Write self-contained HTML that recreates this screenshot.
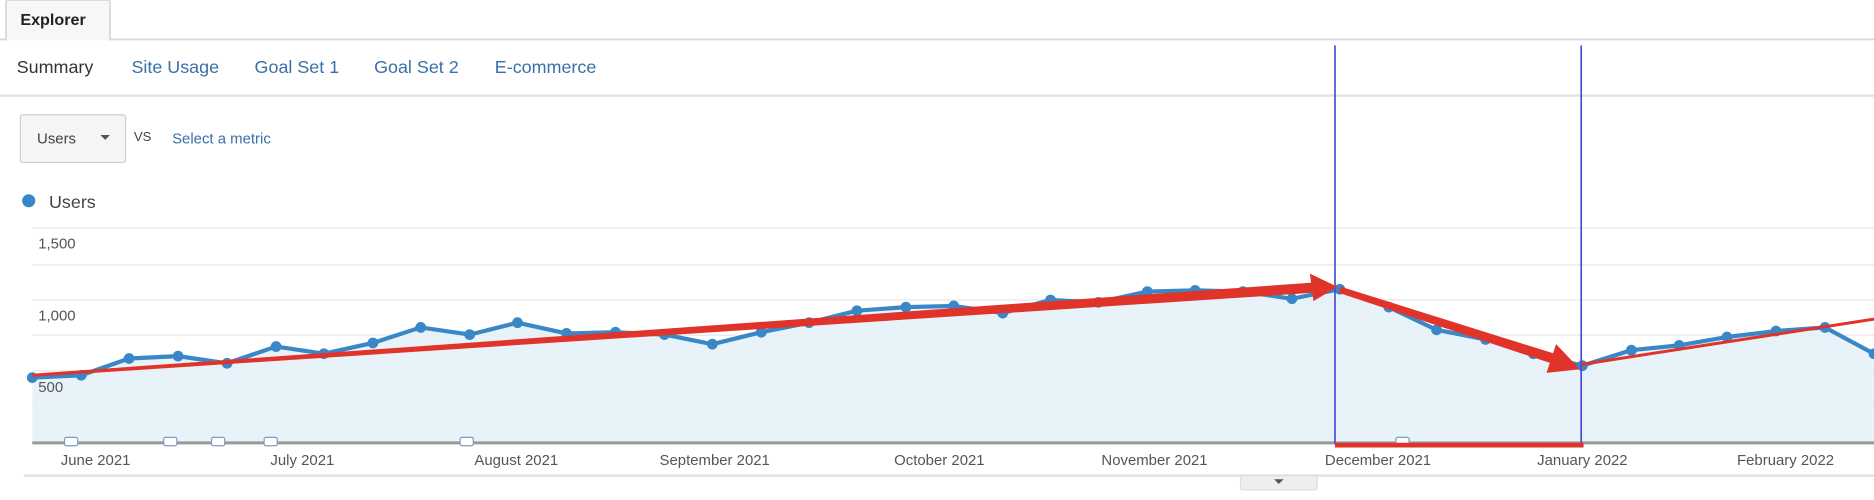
<!DOCTYPE html>
<html><head><meta charset="utf-8"><style>
html,body{margin:0;padding:0;background:#fff;width:1874px;height:500px;overflow:hidden}
svg{display:block}
text{font-family:"Liberation Sans",Arial,sans-serif}
</style></head><body>
<svg width="1874" height="500" viewBox="0 0 1568 418.4" preserveAspectRatio="none">
<rect width="1568" height="418.4" fill="#fff"/>
<path d="M0 33 H5 V2 Q5 0 7 0 H90 Q92 0 92 2 V33 H1568" fill="#f7f7f7" stroke="#d8d8d8" stroke-width="1.5"/>
<rect x="5.8" y="0.8" width="85.4" height="33" fill="#f7f7f7"/>
<text x="17" y="21" font-size="13.5" font-weight="bold" fill="#222">Explorer</text>
<text x="14" y="61" font-size="15" fill="#333">Summary</text>
<text x="110" y="61" font-size="15" fill="#3a6fa8">Site Usage</text>
<text x="213" y="61" font-size="15" fill="#3a6fa8">Goal Set 1</text>
<text x="313" y="61" font-size="15" fill="#3a6fa8">Goal Set 2</text>
<text x="414" y="61" font-size="15" fill="#3a6fa8">E-commerce</text>
<line x1="0" y1="80" x2="1568" y2="80" stroke="#e2e2e2" stroke-width="2"/>
<rect x="17" y="96" width="88" height="40" rx="2" fill="#f5f5f5" stroke="#cfcfcf"/>
<text x="31" y="120" font-size="12.5" fill="#444">Users</text>
<path d="M84 113 h8 l-4 4 z" fill="#555"/>
<text x="112" y="118" font-size="11" fill="#444">VS</text>
<text x="144" y="120" font-size="12.5" fill="#3a6fa8">Select a metric</text>
<circle cx="24" cy="168" r="5.5" fill="#3a87c7"/>
<text x="41" y="174" font-size="15" fill="#444">Users</text>
<g stroke="#ececec" stroke-width="1.3">
<line x1="27" y1="190.8" x2="1568" y2="190.8"/>
<line x1="27" y1="221.7" x2="1568" y2="221.7"/>
<line x1="27" y1="251" x2="1568" y2="251"/>
<line x1="27" y1="280.5" x2="1568" y2="280.5"/>
<line x1="27" y1="310.4" x2="1568" y2="310.4"/>
<line x1="27" y1="340.5" x2="1568" y2="340.5"/>
</g>
<polygon fill="#e6f1f8" opacity="0.9" points="27,370.6 27,316 68,314 108,300 149,298 190,304 231,290 271,296 312,287 352,274 393,280 433,270 474,279 515,278 556,280 596,288 637,278 677,270 717,260 758,257 798,256 839,262 879,251 919,253 960,244 1000,243 1040,244 1081,250 1121,242 1162,257 1202,276 1243,284 1283,296 1324,306 1365,293 1405,289 1445,282 1486,277 1527,274 1568,296 1568,370.6"/>
<g font-size="12.5" fill="#555">
<text x="32" y="208">1,500</text>
<text x="32" y="268">1,000</text>
<text x="32" y="328">500</text>
</g>
<polyline fill="none" stroke="#3a87c7" stroke-width="3.5" stroke-linejoin="round" points="27,316 68,314 108,300 149,298 190,304 231,290 271,296 312,287 352,274 393,280 433,270 474,279 515,278 556,280 596,288 637,278 677,270 717,260 758,257 798,256 839,262 879,251 919,253 960,244 1000,243 1040,244 1081,250 1121,242 1162,257 1202,276 1243,284 1283,296 1324,306 1365,293 1405,289 1445,282 1486,277 1527,274 1568,296"/>
<g fill="#3a87c7">
<circle cx="27" cy="316" r="4.5"/><circle cx="68" cy="314" r="4.5"/><circle cx="108" cy="300" r="4.5"/><circle cx="149" cy="298" r="4.5"/><circle cx="190" cy="304" r="4.5"/><circle cx="231" cy="290" r="4.5"/><circle cx="271" cy="296" r="4.5"/><circle cx="312" cy="287" r="4.5"/><circle cx="352" cy="274" r="4.5"/><circle cx="393" cy="280" r="4.5"/><circle cx="433" cy="270" r="4.5"/><circle cx="474" cy="279" r="4.5"/><circle cx="515" cy="278" r="4.5"/><circle cx="556" cy="280" r="4.5"/><circle cx="596" cy="288" r="4.5"/><circle cx="637" cy="278" r="4.5"/><circle cx="677" cy="270" r="4.5"/><circle cx="717" cy="260" r="4.5"/><circle cx="758" cy="257" r="4.5"/><circle cx="798" cy="256" r="4.5"/><circle cx="839" cy="262" r="4.5"/><circle cx="879" cy="251" r="4.5"/><circle cx="919" cy="253" r="4.5"/><circle cx="960" cy="244" r="4.5"/><circle cx="1000" cy="243" r="4.5"/><circle cx="1040" cy="244" r="4.5"/><circle cx="1081" cy="250" r="4.5"/><circle cx="1121" cy="242" r="4.5"/><circle cx="1162" cy="257" r="4.5"/><circle cx="1202" cy="276" r="4.5"/><circle cx="1243" cy="284" r="4.5"/><circle cx="1283" cy="296" r="4.5"/><circle cx="1324" cy="306" r="4.5"/><circle cx="1365" cy="293" r="4.5"/><circle cx="1405" cy="289" r="4.5"/><circle cx="1445" cy="282" r="4.5"/><circle cx="1486" cy="277" r="4.5"/><circle cx="1527" cy="274" r="4.5"/><circle cx="1568" cy="296" r="4.5"/>
</g>
<line x1="27" y1="370.6" x2="1568" y2="370.6" stroke="#999" stroke-width="2.5"/>
<line x1="20" y1="398" x2="1568" y2="398" stroke="#e2e2e2" stroke-width="2"/>
<g fill="#fff" stroke="#7a9cc0" stroke-width="1">
<rect x="54" y="366" width="11" height="7" rx="1.5"/><rect x="137" y="366" width="11" height="7" rx="1.5"/><rect x="177" y="366" width="11" height="7" rx="1.5"/><rect x="221" y="366" width="11" height="7" rx="1.5"/><rect x="385" y="366" width="11" height="7" rx="1.5"/><rect x="1168" y="366" width="11" height="7" rx="1.5"/>
</g>
<g font-size="12.5" fill="#555" text-anchor="middle">
<text x="80" y="389">June 2021</text>
<text x="253" y="389">July 2021</text>
<text x="432" y="389">August 2021</text>
<text x="598" y="389">September 2021</text>
<text x="786" y="389">October 2021</text>
<text x="966" y="389">November 2021</text>
<text x="1153" y="389">December 2021</text>
<text x="1324" y="389">January 2022</text>
<text x="1494" y="389">February 2022</text>
</g>
<rect x="1038" y="398" width="64" height="12" rx="2" fill="#eee" stroke="#ddd"/>
<path d="M1066 401 h8 l-4 4 z" fill="#555"/>
<line x1="1117" y1="38" x2="1117" y2="372" stroke="#4a4ad8" stroke-width="1.4"/>
<line x1="1323" y1="38" x2="1323" y2="372" stroke="#4a4ad8" stroke-width="1.4"/>
<line x1="1117" y1="372.5" x2="1325" y2="372.5" stroke="#e0332a" stroke-width="4"/>
<g fill="#e0332a">
<polygon points="27,312.8 1098,236.5 1099,245 27,315.4"/>
<polygon points="1119,240 1096,229 1099,252"/>
<polygon points="1122,240 1304,297 1301,305 1120,245"/>
<polygon points="1322,309 1302,288 1294,312"/>
<line x1="1323" y1="305" x2="1568" y2="267" stroke="#e0332a" stroke-width="2.5"/>
</g>
</svg>
</body></html>
